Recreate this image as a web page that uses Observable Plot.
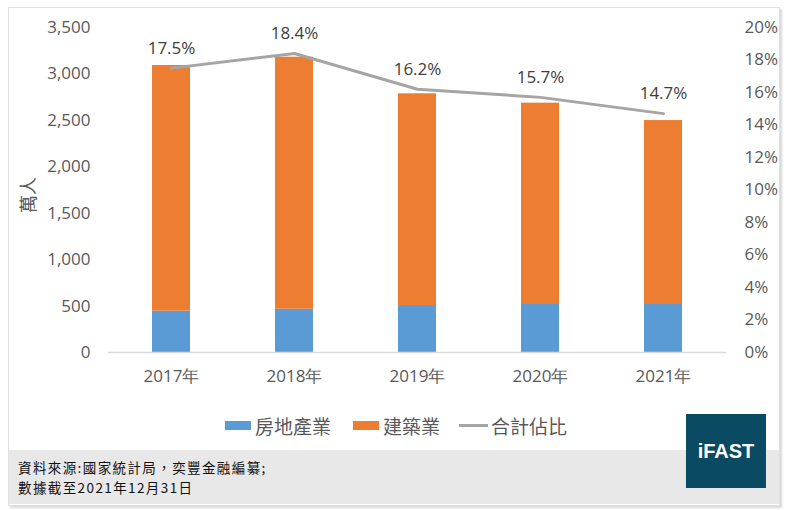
<!DOCTYPE html>
<html>
<head>
<meta charset="utf-8">
<script src="https://cdn.jsdelivr.net/npm/d3@7"></script>
<script src="https://cdn.jsdelivr.net/npm/@observablehq/plot@0.6"></script>
<style>
  html, body { margin: 0; padding: 0; background: #fff; }
  #wrap { position: relative; width: 786px; height: 510px; overflow: hidden; font-family: "Open Sans", sans-serif; }
  #frame { position: absolute; left: 8px; top: 7px; width: 770px; height: 497px; border: 1px solid #e0e0e0; box-shadow: 2px 2px 2px #d8d8d8; background: #fff; }
  #footer { position: absolute; left: 9px; top: 450px; width: 770px; height: 54px; background: #e8e8e8; }
  .note { position: absolute; left: 18px; font-family: "Noto Sans CJK TC", sans-serif; font-size: 13.5px; letter-spacing: 1.4px; line-height: normal; color: #111; white-space: nowrap; }
  #logo { position: absolute; left: 686px; top: 414px; width: 80px; height: 74px; background: #0b4a63; color: #fff; font-family: "Liberation Sans", Arial, sans-serif; font-weight: bold; font-size: 20px; display: flex; align-items: center; justify-content: center; }
  #chart { position: absolute; left: 0; top: 0; }
  #legend { position: absolute; top: 412px; left: 0; width: 786px; height: 26px; font-family: "Noto Sans CJK TC", sans-serif; font-size: 19px; color: #595959; }
  .li { position: absolute; top: 0; display: flex; align-items: center; height: 26px; }
  .sw { display: inline-block; width: 26px; height: 9px; margin-right: 4px; }
  .ln { display: inline-block; width: 29px; height: 3px; margin-right: 3px; background: #a5a5a5; }
  #ytitle { position: absolute; left: 9px; top: 182px; height: 26px; line-height: 26px; font-family: "Noto Sans CJK TC", sans-serif; font-size: 18px; color: #595959; transform-origin: center; white-space: nowrap; }
</style>
</head>
<body>
<div id="wrap">
  <div id="frame"></div>
  <div id="footer"></div>
  <div class="note" style="top:457px">資料來源:國家統計局，奕豐金融編纂;</div>
  <div class="note" style="top:477px">數據截至2021年12月31日</div>
  <div id="logo">iFAST</div>
  <div id="chart"></div>
  <div id="legend"></div>
</div>
<script>
const years = ["2017年", "2018年", "2019年", "2020年", "2021年"];
const realEstate = [445, 466, 506, 517, 517];
const construction = [2646, 2714, 2280, 2168, 1981];
const sharePct = [17.5, 18.4, 16.2, 15.7, 14.7];
const leftTicks = [0, 500, 1000, 1500, 2000, 2500, 3000, 3500];
const rightTicks = [0, 2, 4, 6, 8, 10, 12, 14, 16, 18, 20];
const seriesNames = ["房地產業", "建築業", "合計佔比"];
const colors = ["#5b9bd5", "#ed7d31", "#a5a5a5"];

const yMax = 3500, pMax = 20;
const toY = p => p / pMax * yMax;

const bars = [];
years.forEach((yr, i) => {
  bars.push({year: yr, series: seriesNames[0], value: realEstate[i]});
  bars.push({year: yr, series: seriesNames[1], value: construction[i]});
});
const line = years.map((yr, i) => ({year: yr, pct: sharePct[i]}));

const chart = Plot.plot({
  width: 786,
  height: 400,
  marginLeft: 108,
  marginRight: 60,
  marginTop: 27,
  marginBottom: 48,
  style: {fontFamily: "'Open Sans', sans-serif", fontSize: "17px", color: "#595959", background: "transparent"},
  x: {domain: years, paddingInner: 0.687, paddingOuter: 0.3435, label: null},
  y: {domain: [0, yMax], label: null},
  color: {domain: seriesNames.slice(0, 2), range: colors.slice(0, 2)},
  marks: [
    Plot.barY(bars, {x: "year", y: "value", fill: "series", order: seriesNames.slice(0, 2)}),
    Plot.ruleY([0], {stroke: "#d9d9d9", strokeWidth: 1.3}),
    Plot.line(line, {x: "year", y: d => toY(d.pct), stroke: colors[2], strokeWidth: 3}),
    Plot.text(line, {x: "year", y: d => toY(d.pct), text: d => d.pct.toFixed(1) + "%", dy: -20, fill: "#404040", fontSize: 17}),
    Plot.axisY(leftTicks, {anchor: "left", tickSize: 0, tickPadding: 18, tickFormat: d3.format(","), fill: "#595959", label: null}),
    Plot.axisY(rightTicks.map(toY), {anchor: "right", tickSize: 0, tickPadding: 18, textAnchor: "start", tickFormat: d => Math.round(d / yMax * pMax) + "%", fill: "#595959", label: null}),
    Plot.axisX({tickSize: 0, tickPadding: 17, fill: "#595959", label: null})
  ]
});
document.getElementById("chart").appendChild(chart);

// y-axis title
const yt = document.createElement("div");
yt.id = "ytitle";
yt.textContent = "萬人";
yt.style.transform = "rotate(-90deg)";
document.getElementById("wrap").appendChild(yt);

// legend
const legend = document.getElementById("legend");
const lefts = [225, 353, 459];
seriesNames.forEach((name, i) => {
  const item = document.createElement("div");
  item.className = "li";
  item.style.left = lefts[i] + "px";
  const mark = document.createElement("span");
  if (i < 2) { mark.className = "sw"; mark.style.background = colors[i]; }
  else { mark.className = "ln"; }
  item.appendChild(mark);
  const t = document.createElement("span");
  t.textContent = name;
  item.appendChild(t);
  legend.appendChild(item);
});
</script>
</body>
</html>
